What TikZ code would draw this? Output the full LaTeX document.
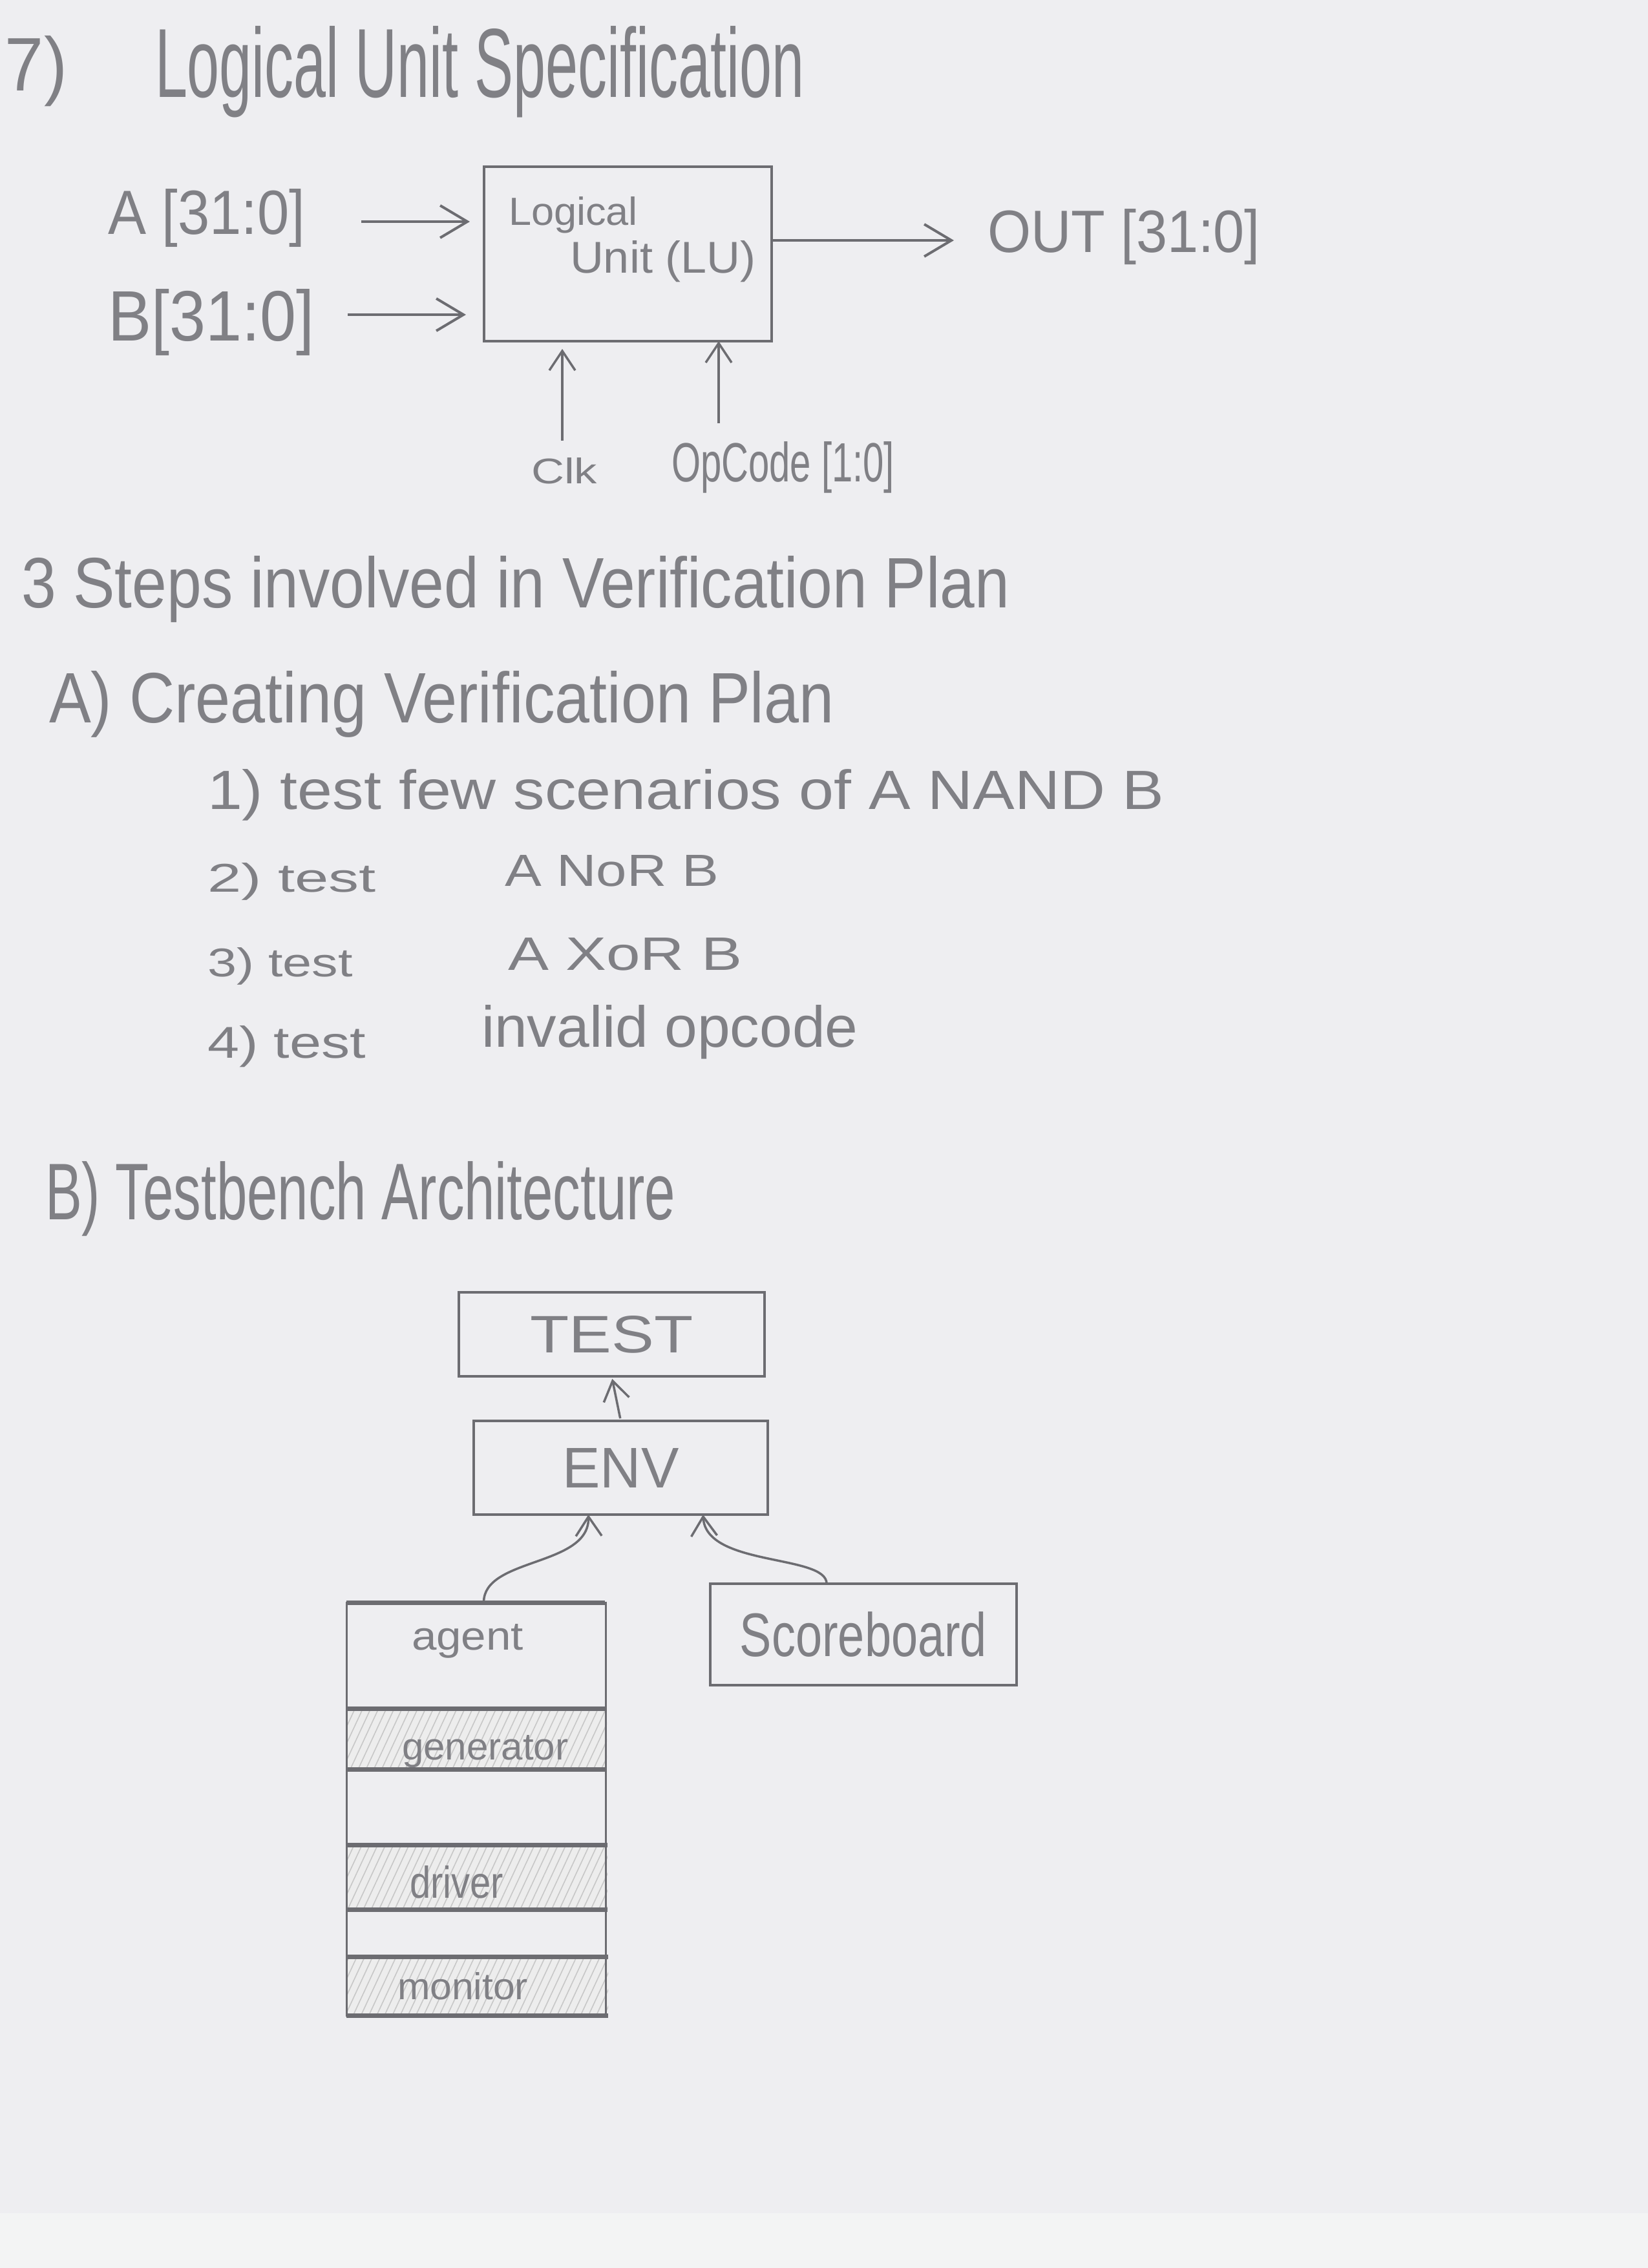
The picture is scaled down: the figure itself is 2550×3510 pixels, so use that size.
\documentclass[tikz,border=0pt]{standalone}
\usepackage{fontspec}
\usepackage{graphicx}
\usetikzlibrary{arrows.meta,calc,patterns.meta}
\newfontfamily\hand{Liberation Sans}
% text squeezed into a given width and height (in pt), like hand lettering
\newcommand\handtxt[3]{\resizebox{#1pt}{#2pt}{\hand #3}}
\definecolor{paper}{RGB}{238,238,241}
\definecolor{paperlow}{RGB}{243,244,244}
\definecolor{pencil}{RGB}{108,108,113}
\definecolor{ink}{RGB}{128,128,133}
\begin{document}
\begin{tikzpicture}[x=1pt,y=-1pt,
  txt/.style={inner sep=0pt,outer sep=0pt,text=ink,anchor=base west},
  blk/.style={draw=pencil,line width=4.5pt,inner sep=0pt,outer sep=0pt,text=ink},
  arrbig/.style={draw=pencil,line width=4pt,
    -{Straight Barb[length=42pt,width=50pt]}},
  arrsmall/.style={draw=pencil,line width=3.5pt,
    -{Straight Barb[length=30pt,width=40pt]}},
  band/.style={fill=black!7},
  hatch/.style={pattern={Lines[angle=65,distance=11pt,line width=1.6pt]},pattern color=black!22},
  rule/.style={draw=pencil,line width=7pt}]

% sheet
\useasboundingbox (0,0) rectangle (2550,3510);
\fill[paper] (0,0) rectangle (2550,3510);
\fill[paperlow] (0,3425) rectangle (2550,3510);

% ---------- 7) Logical Unit Specification ----------
\node[txt] (num7) at (8,140) {\handtxt{96}{85}{7)}};
\node[txt] (title) at (240,150) {\handtxt{1004}{110}{Logical Unit Specification}};

\node[blk,minimum width=445pt,minimum height=270pt] (lu) at (971.5,393) {};
\node[txt] (lulabA) at (787,348) {\handtxt{200}{44}{Logical}};
\node[txt] (lulabB) at (882,422) {\handtxt{288}{50}{Unit (LU)}};

\node[txt] (alab) at (167,362) {\handtxt{305}{70}{A [31:0]}};
\node[txt] (blab) at (167,527) {\handtxt{319}{80}{B[31:0]}};
\node[txt] (outlab) at (1528,390) {\handtxt{422}{67}{OUT [31:0]}};
\node[txt] (clklab) at (822,748) {\handtxt{102}{40}{Clk}};
\node[txt] (oplab) at (1039,745) {\handtxt{345}{62}{OpCode [1:0]}};

\coordinate (aStart) at (559,343);
\coordinate (bStart) at (538,487);
\coordinate (outEnd) at (1476,372);
\coordinate (clkStart) at (870,682);
\coordinate (opStart) at (1112,655);

\draw[arrbig,shorten >=22pt] (aStart) -- (aStart -| lu.west);
\draw[arrbig,shorten >=28pt] (bStart) -- (bStart -| lu.west);
\draw[arrbig] (outEnd -| lu.east) -- (outEnd);
\draw[arrsmall,shorten >=12pt] (clkStart) -- (clkStart |- lu.south);
\draw[arrsmall] (opStart) -- (opStart |- lu.south);

% ---------- Verification plan ----------
\node[txt] (steps) at (33,940) {\handtxt{1529}{80}{3 Steps involved in Verification Plan}};
\node[txt] (secA) at (76,1118) {\handtxt{1214}{80}{A) Creating Verification Plan}};
\node[txt] (item1) at (321,1252) {\handtxt{1480}{62}{1) test few scenarios of A NAND B}};
\node[txt] (item2) at (321,1380) {\handtxt{261}{45}{2) test}};
\node[txt] (item2b) at (781,1371) {\handtxt{331}{48}{A NoR B}};
\node[txt] (item3) at (321,1511) {\handtxt{225}{45}{3) test}};
\node[txt] (item3b) at (786,1501) {\handtxt{362}{50}{A XoR B}};
\node[txt] (item4) at (321,1637) {\handtxt{245}{50}{4) test}};
\node[txt] (item4b) at (745,1620) {\handtxt{582}{65}{invalid opcode}};

% ---------- B) Testbench Architecture ----------
\node[txt] (secB) at (70,1887) {\handtxt{975}{90}{B) Testbench Architecture}};

\node[blk,line width=4pt,minimum width=473pt,minimum height=130pt] (test) at (946.5,2065)
  {\handtxt{252}{57}{TEST}};
\node[blk,line width=4pt,minimum width=455pt,minimum height=145pt] (env) at (960.5,2271.5)
  {\handtxt{180}{61}{ENV}};
\node[blk,line width=4pt,minimum width=474pt,minimum height=157pt] (sb) at (1336,2529.5)
  {\handtxt{382}{69}{Scoreboard}};

% agent stack with shaded sub-blocks
\path[band] (536,2644) rectangle (939,2738);
\path[hatch] (536,2644) rectangle (939,2738);
\path[band] (536,2855) rectangle (940,2955);
\path[hatch] (536,2855) rectangle (940,2955);
\path[band] (536,3028) rectangle (941,3119);
\path[hatch] (536,3028) rectangle (941,3119);
\node[draw=pencil,line width=3pt,inner sep=0pt,outer sep=0pt,
  minimum width=401pt,minimum height=639pt] (agentbox) at (736.5,2799.5) {};
\foreach \yy/\xr in {2480/936,2644/939,2738/939,2855/940,2955/940,3028/941,3119/941}
  \draw[rule] (536,\yy) -- (\xr,\yy);

\node[txt] (agentlab) at (637,2553) {\handtxt{173}{40}{agent}};
\node[txt] (genlab) at (622,2723) {\handtxt{257}{38}{generator}};
\node[txt] (drvlab) at (634,2937) {\handtxt{145}{50}{driver}};
\node[txt] (monlab) at (615,3094) {\handtxt{202}{42}{monitor}};

% connectors
\draw[arrsmall,shorten <=4pt,shorten >=4pt] (env.north) -- (test.south);
\draw[arrsmall] ($(agentbox.north west)!0.53!(agentbox.north east)$)
  .. controls (748,2410) and (912,2425) .. ($(env.south west)!0.39!(env.south east)$);
\draw[arrsmall] ($(sb.north west)!0.38!(sb.north east)$)
  .. controls (1279,2405) and (1092,2425) .. ($(env.south west)!0.78!(env.south east)$);
\end{tikzpicture}
\end{document}
